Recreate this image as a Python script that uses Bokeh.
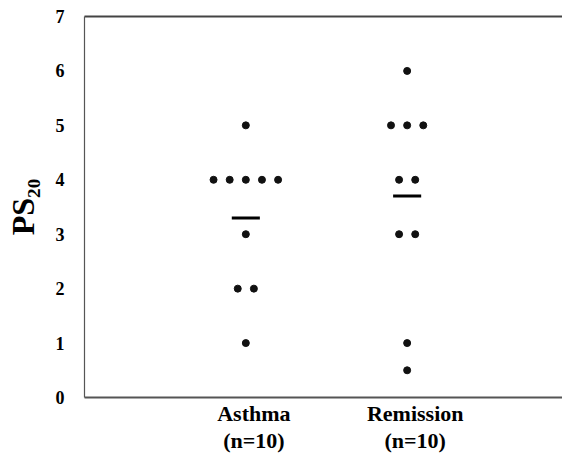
from collections import Counter
from bokeh.plotting import figure
from bokeh.models import Range1d, FixedTicker, LinearAxis
from bokeh.embed import file_html
from bokeh.resources import INLINE

# ---- data ----
categories = ["Asthma", "Remission"]
group_n = [10, 10]
asthma_ps20 = [5, 4, 4, 4, 4, 4, 3, 2, 2, 1]
remission_ps20 = [6, 5, 5, 5, 4, 4, 3, 3, 1, 0.5]
group_means = [3.3, 3.7]
y_ticks = [0, 1, 2, 3, 4, 5, 6, 7]
y_title = "PS\u2082\u2080"

groups = [asthma_ps20, remission_ps20]
cat_pos = [1, 2]

FONT = "Liberation Serif"

p = figure(width=562, height=459, output_backend="svg", toolbar_location=None,
           x_range=Range1d(0, 2.963), y_range=Range1d(0, 7),
           x_axis_location=None, y_axis_location=None,
           min_border_left=84, min_border_right=0, min_border_top=16, min_border_bottom=62)
p.outline_line_color = None
p.xgrid.visible = False
p.ygrid.visible = False
p.background_fill_color = "white"
p.border_fill_color = "white"

# left axis
yax = LinearAxis(ticker=FixedTicker(ticks=y_ticks))
yax.axis_line_color = "#555555"
yax.axis_line_width = 1.2
yax.major_tick_line_color = None
yax.minor_tick_line_color = None
yax.major_tick_out = 0
yax.major_tick_in = 0
yax.major_label_standoff = 20
yax.major_label_text_font = FONT
yax.major_label_text_font_style = "bold"
yax.major_label_text_font_size = "18px"
yax.major_label_text_color = "black"
yax.axis_label = y_title
yax.axis_label_text_font = FONT
yax.axis_label_text_font_style = "bold"
yax.axis_label_text_font_size = "32px"
yax.axis_label_text_color = "black"
yax.axis_label_standoff = 12
p.add_layout(yax, "left")

# bottom axis: line plus category labels
label_shift = 0.05
x_ticks = [c + label_shift for c in cat_pos]
xax = LinearAxis(ticker=FixedTicker(ticks=x_ticks))
xax.major_label_overrides = {t: f"{name}\n(n={n})" for t, name, n in zip(x_ticks, categories, group_n)}
xax.axis_line_color = "#555555"
xax.axis_line_width = 2
xax.major_tick_line_color = None
xax.minor_tick_line_color = None
xax.major_tick_out = 0
xax.major_tick_in = 0
xax.major_label_standoff = 3
xax.major_label_text_font = FONT
xax.major_label_text_font_style = "bold"
xax.major_label_text_font_size = "22px"
xax.major_label_text_color = "black"
xax.major_label_text_line_height = 1.1
p.add_layout(xax, "below")

# top axis line
tax = LinearAxis(ticker=FixedTicker(ticks=[]))
tax.axis_line_color = "#444444"
tax.axis_line_width = 2
tax.major_tick_line_color = None
tax.minor_tick_line_color = None
tax.major_label_text_font_size = "0px"
p.add_layout(tax, "above")

# points, spread horizontally where values repeat
step = 0.1
xs, ys = [], []
for c, vals in zip(cat_pos, groups):
    counts = Counter(vals)
    seen = Counter()
    for v in vals:
        k = counts[v]
        i = seen[v]
        seen[v] += 1
        xs.append(c + (i - (k - 1) / 2) * step)
        ys.append(v)
p.scatter(xs, ys, size=7, marker="circle", fill_color="#111111", line_color="#111111")

# mean bars
hw = 0.087
p.segment(x0=[c - hw for c in cat_pos], x1=[c + hw for c in cat_pos],
          y0=group_means, y1=group_means, line_color="black", line_width=3)

open("out.html", "w").write(file_html(p, INLINE))
